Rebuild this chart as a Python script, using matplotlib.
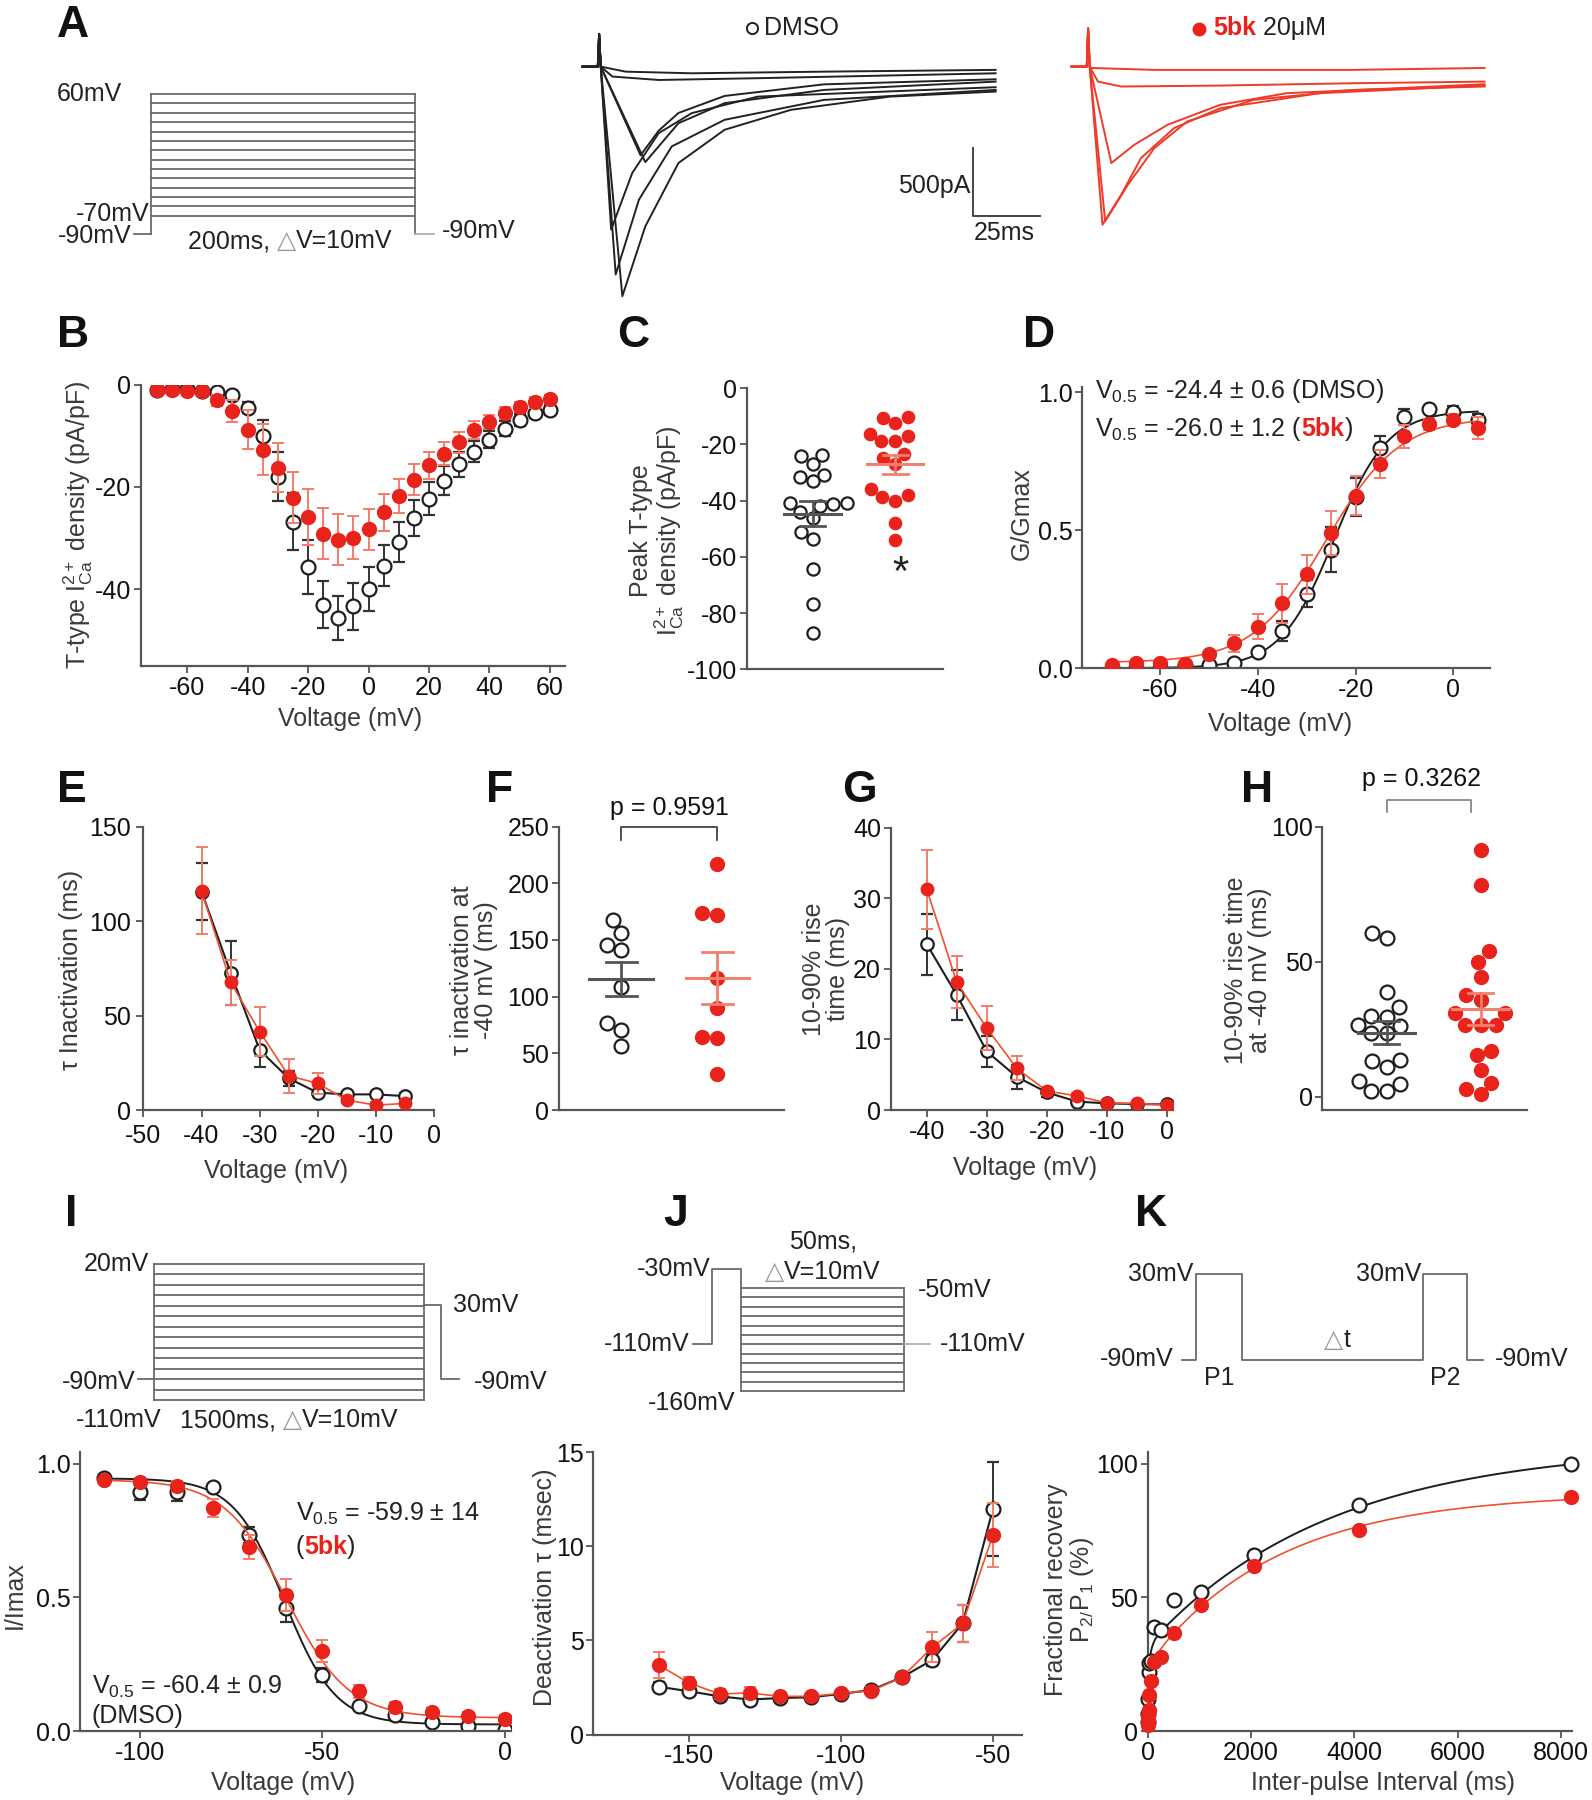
import numpy as np
import matplotlib
matplotlib.use('Agg')
import matplotlib.pyplot as plt
from matplotlib.lines import Line2D
from matplotlib.offsetbox import TextArea, HPacker, AnnotationBbox

plt.rcParams['font.family'] = ['Liberation Sans', 'DejaVu Sans']
plt.rcParams['mathtext.fontset'] = 'custom'
plt.rcParams['mathtext.rm'] = 'Liberation Sans'
plt.rcParams['mathtext.it'] = 'Liberation Sans:italic'
plt.rcParams['mathtext.bf'] = 'Liberation Sans:bold'
plt.rcParams['axes.unicode_minus'] = False
plt.rcParams['font.size'] = 18

RED = '#e8231c'
RED_ERR = '#f47c68'
RED_LINE = '#f0502c'
BLK = '#1e1e1e'
AXC = '#555555'
LABC = '#3a3a3a'
PROT = '#6a6a6a'
LIGHT = '#b0b0b0'

# ---------------- data ----------------
# A: voltage protocol + example traces (ms, pA)
A_STEPS = list(range(-70, 61, 10))
A_HOLD = -90
A_STEP_MS = 200
TRACE_PRE_T = [-6.2, -0.5, 0.0, 0.6]
TRACE_PRE_DMSO = [0, 0, 240, 0]
TRACE_PRE_5BK = [0, 0, 280, 0]
TRACES_DMSO = [
    ([9.9, 34.7, 84.2, 148.5], [-37, -49, -37, -24]),
    ([5.0, 22.3, 59.4, 148.5], [-73, -98, -85, -49]),
    ([15.5, 22.3, 29.7, 47.0, 84.2, 148.5], [-650, -470, -340, -215, -130, -93]),
    ([17.3, 29.7, 47.0, 84.2, 148.5], [-700, -415, -268, -171, -110]),
    ([4.5, 12.4, 22.3, 34.7, 59.4, 148.5], [-1195, -780, -488, -341, -220, -151]),
    ([6.2, 14.9, 27.2, 47.0, 84.2, 148.5], [-1524, -976, -585, -390, -244, -171]),
    ([8.7, 17.3, 29.7, 47.0, 71.8, 108.9, 148.5], [-1683, -1171, -707, -463, -317, -220, -183]),
]
TRACES_5BK = [
    ([1.2, 24.8, 99.0, 148.5], [-10, -24, -24, -10]),
    ([3.7, 12.4, 49.5, 99.0, 148.5], [-110, -146, -139, -122, -110]),
    ([8.7, 17.3, 29.7, 49.5, 74.3, 148.5], [-707, -573, -427, -280, -195, -129]),
    ([5.4, 12.4, 19.8, 32.2, 49.5, 86.6, 148.5], [-1159, -939, -671, -451, -305, -195, -139]),
    ([6.4, 14.9, 24.8, 37.1, 61.9, 99.0, 148.5], [-1134, -866, -598, -402, -244, -171, -146]),
]
SCALE_PA = 500
SCALE_MS = 25

# B: I-V
B_V = list(range(-70, 61, 5))
B_DMSO = [-1.1, -0.8, -0.8, -1.3, -1.5, -2.1, -4.5, -10.0, -18.0, -26.8, -35.7, -43.1, -45.6, -43.4,
          -39.9, -35.4, -30.8, -26.1, -22.3, -18.8, -15.6, -13.1, -10.8, -8.6, -6.9, -5.5, -5.0]
B_DMSO_SEM = [0.3, 0.3, 0.3, 0.3, 0.4, 0.5, 1.0, 3.0, 4.8, 5.5, 5.3, 4.6, 4.3, 4.5,
              4.3, 4.0, 3.9, 3.5, 3.2, 2.8, 2.4, 2.1, 1.7, 1.4, 1.2, 1.0, 1.0]
B_5BK = [-1.1, -1.0, -1.3, -1.3, -3.1, -5.2, -8.8, -12.7, -16.3, -22.1, -25.9, -29.2, -30.3, -30.0,
         -28.3, -25.0, -21.8, -18.6, -15.8, -13.5, -11.3, -8.9, -7.3, -5.5, -4.4, -3.5, -2.9]
B_5BK_SEM = [0.3, 0.4, 0.4, 0.4, 1.0, 2.2, 3.8, 5.0, 4.8, 5.0, 5.5, 5.0, 5.0, 4.2,
             4.0, 3.6, 3.4, 3.0, 2.7, 2.3, 2.0, 1.7, 1.4, 1.2, 1.0, 1.0, 0.8]

# C: peak density per cell
C_DMSO = [-24.3, -23.7, -27.1, -30.8, -31.5, -33.2, -40.9, -41.2, -42.1, -40.9, -44.1,
          -46.2, -51.2, -53.8, -64.2, -76.7, -87.1]
C_5BK = [-12.4, -10.3, -10.5, -17.1, -18.8, -18.8, -16.2, -27.1, -24.9, -23.3,
         -38.2, -40.3, -38.7, -35.8, -47.9, -54.1]

# D: activation
D_V = list(range(-70, 6, 5))
D_DMSO = [0.0, 0.0, 0.0, 0.01, 0.01, 0.02, 0.06, 0.135, 0.27, 0.43, 0.62, 0.80, 0.91, 0.94, 0.93, 0.90]
D_DMSO_SEM = [0.005, 0.005, 0.005, 0.005, 0.005, 0.01, 0.01, 0.035, 0.05, 0.08, 0.07, 0.04, 0.03, 0.01, 0.02, 0.02]
D_5BK = [0.01, 0.02, 0.02, 0.015, 0.05, 0.09, 0.15, 0.235, 0.34, 0.49, 0.625, 0.74, 0.84, 0.885, 0.90, 0.87]
D_5BK_SEM = [0.005, 0.005, 0.005, 0.005, 0.01, 0.03, 0.045, 0.07, 0.07, 0.08, 0.07, 0.05, 0.04, 0.02, 0.02, 0.04]
# Boltzmann fit: (gmax, v_half, slope, base)
D_FIT_DMSO = (0.935, -24.4, 5.5, 0.0)
D_FIT_5BK = (0.89, -26.0, 7.5, 0.02)

# E: tau inactivation
E_V = [-40, -35, -30, -25, -20, -15, -10, -5]
E_DMSO = [115.6, 72.7, 31.8, 16.8, 9.2, 8.3, 8.3, 7.4]
E_DMSO_SEM = [15, 17, 9, 4, 1.5, 1.5, 1.5, 1.5]
E_5BK = [116.0, 67.6, 41.5, 18.2, 14.1, 5.3, 2.6, 3.5]
E_5BK_SEM = [23, 12, 13, 9, 5.5, 1.5, 1.5, 1.5]

# F: tau at -40 mV per cell
F_DMSO = [167.6, 156.3, 145.3, 140.9, 108.5, 76.7, 70.8, 56.9]
F_5BK = [216.7, 174.0, 171.9, 116.7, 90.2, 64.3, 63.7, 31.8]

# G: rise time
G_V = [-40, -35, -30, -25, -20, -15, -10, -5, 0]
G_DMSO = [23.5, 16.3, 8.3, 4.7, 2.5, 1.2, 0.95, 0.85, 0.8]
G_DMSO_SEM = [4.3, 3.6, 2.2, 1.7, 0.6, 0.3, 0.2, 0.2, 0.2]
G_5BK = [31.3, 18.1, 11.6, 5.9, 2.7, 2.0, 1.0, 0.95, 0.7]
G_5BK_SEM = [5.6, 3.7, 3.1, 1.7, 0.5, 0.4, 0.3, 0.3, 0.3]

# H: rise time at -40 mV per cell
H_DMSO = [60.7, 58.9, 38.9, 33.0, 29.4, 29.9, 26.5, 26.3, 23.7, 23.7, 11.1, 13.6, 13.0, 5.6, 4.7, 1.9, 2.1]
H_5BK = [91.4, 78.4, 54.0, 50.0, 44.4, 37.7, 35.8, 31.1, 30.9, 26.5, 26.5, 26.5, 16.9, 15.4, 9.9, 5.2, 2.7, 0.9]

# I: steady-state inactivation
I_STEPS = list(range(-110, 21, 10))
I_HOLD = -90
I_STEP_MS = 1500
I_V = list(range(-110, 1, 10))
I_DMSO = [0.948, 0.894, 0.894, 0.912, 0.733, 0.459, 0.21, 0.095, 0.061, 0.034, 0.018, 0.004]
I_DMSO_SEM = [0.01, 0.03, 0.035, 0.01, 0.03, 0.05, 0.025, 0.01, 0.01, 0.01, 0.01, 0.01]
I_5BK = [0.939, 0.933, 0.915, 0.834, 0.688, 0.508, 0.299, 0.149, 0.089, 0.070, 0.056, 0.044]
I_5BK_SEM = [0.01, 0.015, 0.02, 0.035, 0.045, 0.06, 0.04, 0.025, 0.02, 0.015, 0.015, 0.015]
# inactivation Boltzmann: (top, bottom, v_half, slope)
I_FIT_DMSO = (0.945, 0.025, -60.4, 7.0)
I_FIT_5BK = (0.94, 0.05, -59.9, 8.5)

# J: deactivation
J_STEPS = list(range(-50, -161, -10))
J_HOLD = -110
J_PRE = -30
J_STEP_MS = 50
J_V = list(range(-160, -49, 10))
J_DMSO = [2.54, 2.30, 2.03, 1.86, 1.94, 1.98, 2.16, 2.37, 3.04, 3.96, 5.9, 12.0]
J_DMSO_SEM = [0.25, 0.15, 0.1, 0.1, 0.1, 0.1, 0.1, 0.1, 0.2, 0.3, 1.0, 2.5]
J_5BK = [3.69, 2.74, 2.16, 2.21, 2.03, 2.03, 2.19, 2.33, 3.04, 4.63, 5.9, 10.6]
J_5BK_SEM = [0.7, 0.3, 0.25, 0.3, 0.15, 0.2, 0.15, 0.2, 0.2, 0.8, 1.0, 1.7]

# K: recovery from inactivation
K_HOLD = -90
K_TEST = 30
K_SEGMENTS = [12, 40, 158, 38, 14]   # hold, P1, gap, P2, tail (schematic widths)
K_T = [2, 4, 8, 16, 32, 64, 128, 256, 512, 1024, 2048, 4096, 8192]
K_DMSO = [3.5, 6.5, 12.0, 22.0, 25.3, 26.3, 38.9, 37.7, 49.0, 52.0, 65.9, 84.5, 100.0]
K_5BK = [2.4, 4.0, 5.8, 7.9, 13.5, 18.8, 25.7, 27.8, 36.8, 47.3, 61.8, 75.2, 87.6]
# double exponential: (a0, a_fast, tau_fast, a_slow, tau_slow)
K_FIT_DMSO = (20, 12, 50, 75, 3500)
K_FIT_5BK = (20, 5, 100, 64, 2500)

# ---------------- figure helpers ----------------
W, H = 1387, 1568          # layout grid (reference pixels)
FW, FH = 1592, 1800
fig = plt.figure(figsize=(FW / 100, FH / 100), dpi=100)
fig.patch.set_facecolor('white')


def add_ax(x0, y0, x1, y1):
    return fig.add_axes([x0 / W, 1 - y1 / H, (x1 - x0) / W, (y1 - y0) / H])


def ftext(x, y, s, **kw):
    fig.text(x / W, 1 - y / H, s, **kw)


def rich(parent, xy, parts, coords, align=(0, 0.5), size=18):
    boxes = [TextArea(s, textprops=dict(color=c, fontsize=size, fontweight=w)) for s, c, w in parts]
    pack = HPacker(children=boxes, align='baseline', pad=0, sep=0)
    ab = AnnotationBbox(pack, xy, xycoords=coords, frameon=False, box_alignment=align,
                        pad=0, annotation_clip=False)
    parent.add_artist(ab)


def style(ax, xlim, ylim, xticks=None, yticks=None):
    ax.set_xlim(*xlim)
    ax.set_ylim(*ylim)
    for s in ('top', 'right'):
        ax.spines[s].set_visible(False)
    for s in ('left', 'bottom'):
        ax.spines[s].set_color(AXC)
        ax.spines[s].set_linewidth(1.6)
    ax.tick_params(direction='out', length=5, width=1.3, color=AXC, labelsize=18,
                   labelcolor='#111', pad=2)
    ax.set_xticks([] if xticks is None else xticks)
    if yticks is not None:
        ax.set_yticks(yticks)
    ax.patch.set_visible(False)


def ylab(ax, x, y, s):
    ax.text(x, y, s, transform=ax.transAxes, rotation=90, ha='center', va='center',
            color=LABC, fontsize=18, multialignment='center', linespacing=1.0)


def xlab(ax, x, y, s):
    ax.text(x, y, s, transform=ax.transAxes, ha='center', va='center', color=LABC, fontsize=18)


def series(ax, x, y, err, filled, line=False, ms=10, z=2):
    fmt = 'o-' if line else 'o'
    if filled:
        ax.errorbar(x, y, yerr=err, fmt=fmt, color=RED_LINE, ecolor=RED_ERR, mfc=RED, mec=RED,
                    ms=ms, capsize=4, elinewidth=1.4, capthick=1.4, lw=1.2, zorder=z + 1)
    else:
        ax.errorbar(x, y, yerr=err, fmt=fmt, color=BLK, ecolor='#333333', mfc='white', mec=BLK,
                    mew=1.6, ms=ms, capsize=4, elinewidth=1.4, capthick=1.4, lw=1.5, zorder=z)


def swarm(y_px, d):
    placed = []
    out = np.zeros(len(y_px))
    for i in np.argsort(y_px):
        y = y_px[i]
        cands = [0.0]
        for xj, yj in placed:
            dy = abs(y - yj)
            if dy < d:
                dx = np.sqrt(d * d - dy * dy)
                cands += [xj - dx, xj + dx]
        cands.sort(key=abs)
        for c in cands:
            if all((c - xj) ** 2 + (y - yj) ** 2 >= d * d - 1e-6 for xj, yj in placed):
                break
        placed.append((c, y))
        out[i] = c
    return out


def strip(ax, pos, vals, filled, half_mean=0.33, half_cap=0.15, ms=11):
    vals = np.asarray(vals, float)
    bb = ax.get_position()
    x0, x1 = ax.get_xlim()
    y0, y1 = ax.get_ylim()
    pxx = bb.width * FW / (x1 - x0)
    pxy = bb.height * FH / (y1 - y0)
    offs = swarm(vals * pxy, ms * 100 / 72 + 1.5) / pxx
    if filled:
        ax.plot(pos + offs, vals, 'o', ms=ms, mfc=RED, mec=RED, zorder=3, clip_on=False)
        mc = '#f2806e'
    else:
        ax.plot(pos + offs, vals, 'o', ms=ms, mfc='white', mec=BLK, mew=1.6, zorder=3, clip_on=False)
        mc = '#555555'
    m = vals.mean()
    sem = vals.std(ddof=1) / np.sqrt(len(vals))
    ax.plot([pos - half_mean, pos + half_mean], [m, m], color=mc, lw=2.2, zorder=4)
    ax.plot([pos, pos], [m - sem, m + sem], color=mc, lw=2, zorder=4)
    for e in (m - sem, m + sem):
        ax.plot([pos - half_cap, pos + half_cap], [e, e], color=mc, lw=2, zorder=4)


def proto_ax(rect, xlim, ylim):
    ax = add_ax(*rect)
    ax.set_xlim(*xlim)
    ax.set_ylim(*ylim)
    ax.axis('off')
    return ax


def boltz(v, p):
    g, vh, k, b = p
    return b + g / (1 + np.exp((vh - v) / k))


def inact(v, p):
    top, bot, vh, k = p
    return bot + (top - bot) / (1 + np.exp((v - vh) / k))


def biexp(t, p):
    a0, a1, t1, a2, t2 = p
    return a0 + a1 * (1 - np.exp(-t / t1)) + a2 * (1 - np.exp(-t / t2))


# panel letters
for letter, x, y in [('A', 50, 4), ('B', 50, 274), ('C', 538, 274), ('D', 891, 274),
                     ('E', 50, 671), ('F', 423, 671), ('G', 734, 671), ('H', 1081, 671),
                     ('I', 57, 1040), ('J', 578, 1040), ('K', 989, 1040)]:
    ftext(x, y, letter, fontsize=32, fontweight='bold', ha='left', va='top', color='#111')

# ---------------- A ----------------
pa = proto_ax((40, 60, 470, 230), (-80, 294), (-121.6, 87))
for v in A_STEPS:
    pa.plot([0, A_STEP_MS], [v, v], color=PROT, lw=1.3)
pa.plot([0, 0], [A_HOLD, max(A_STEPS)], color=PROT, lw=1.3)
pa.plot([A_STEP_MS, A_STEP_MS], [A_HOLD, max(A_STEPS)], color=PROT, lw=1.3)
pa.plot([-13, 0], [A_HOLD, A_HOLD], color=PROT, lw=1.3)
pa.plot([A_STEP_MS, A_STEP_MS + 14], [A_HOLD, A_HOLD], color=LIGHT, lw=1.3)
pa.text(-22, max(A_STEPS), '60mV', ha='right', va='center', color='#222')
pa.text(-1.5, min(A_STEPS) + 2, '-70mV', ha='right', va='center', color='#222')
pa.text(-15, A_HOLD - 2, '-90mV', ha='right', va='center', color='#222')
rich(pa, (105, -97), [('200ms, ', '#222', 'normal'), ('\u25b3', '#999999', 'normal'),
                      ('V=10mV', '#222', 'normal')], 'data', align=(0.5, 0.5))
pa.text(A_STEP_MS + 20, -86, '-90mV', ha='left', va='center', color='#222')

tb = None
for traces, pre, rect, col in [(TRACES_DMSO, TRACE_PRE_DMSO, (505, 20, 910, 265), '#222222'),
                               (TRACES_5BK, TRACE_PRE_5BK, (931, 20, 1336, 265), '#f03a28')]:
    ta = add_ax(*rect)
    ta.set_xlim(-7.3, 166.8)
    ta.set_ylim(-1742, 320)
    ta.axis('off')
    for t, i in traces:
        ta.plot(TRACE_PRE_T + t, pre + i, color=col, lw=1.4)
    if tb is None:
        tb = ta
# scale bar
sb_t, sb_i = 140.2, -1094
tb.plot([sb_t, sb_t, sb_t + SCALE_MS], [sb_i + SCALE_PA, sb_i, sb_i], color='#444', lw=1.4, clip_on=False)
tb.text(sb_t - 1, sb_i + 0.44 * SCALE_PA, '%dpA' % SCALE_PA, ha='right', va='center', color='#222')
tb.text(sb_t, sb_i - 0.25 * SCALE_PA, '%dms' % SCALE_MS, ha='left', va='center', color='#222')

# legends above traces
fig.add_artist(Line2D([655 / W], [1 - 24 / H], marker='o', ms=8, mfc='white', mec=BLK, mew=1.4,
                      transform=fig.transFigure))
ftext(666, 24, 'DMSO', ha='left', va='center', color='#222')
fig.add_artist(Line2D([1045 / W], [1 - 25 / H], marker='o', ms=9, mfc=RED, mec=RED,
                      transform=fig.transFigure))
rich(fig, (1057 / W, 1 - 24 / H), [('5bk', RED, 'bold'), (' 20\u03bcM', '#222', 'normal')],
     'figure fraction')

# ---------------- B ----------------
ax = add_ax(123, 335, 492, 580)
style(ax, (-75.2, 64.9), (-55, 0), xticks=[-60, -40, -20, 0, 20, 40, 60], yticks=[0, -20, -40])
series(ax, B_V, B_DMSO, B_DMSO_SEM, False, ms=10)
series(ax, B_V, B_5BK, B_5BK_SEM, True, ms=10)
ylab(ax, -0.149, 0.5, r'T-type $\mathregular{I_{Ca}^{2+}}$ density (pA/pF)')
xlab(ax, 0.493, -0.19, 'Voltage (mV)')

# ---------------- C ----------------
ax = add_ax(651, 338, 822, 583)
style(ax, (-0.79, 1.585), (-100, 0), yticks=[0, -20, -40, -60, -80, -100])
strip(ax, 0, C_DMSO, False, half_mean=0.34, half_cap=0.15, ms=8.8)
strip(ax, 1, C_5BK, True, half_mean=0.34, half_cap=0.15, ms=8.8)
ax.text(1.06, -66, '*', ha='center', va='center', fontsize=30, color='#222')
ylab(ax, -0.456, 0.494, 'Peak T-type\n' + r'$\mathregular{I_{Ca}^{2+}}$ density (pA/pF)')

# ---------------- D ----------------
ax = add_ax(943, 337, 1298, 582)
style(ax, (-76, 7.5), (0, 1.02), xticks=[-60, -40, -20, 0], yticks=[0, 0.5, 1.0])
ax.set_yticklabels(['0.0', '0.5', '1.0'])
vv = np.linspace(min(D_V), max(D_V), 200)
ax.plot(vv, boltz(vv, D_FIT_DMSO), color=BLK, lw=1.4, zorder=2)
ax.plot(vv, boltz(vv, D_FIT_5BK), color=RED_LINE, lw=1.2, zorder=3)
series(ax, D_V, D_DMSO, D_DMSO_SEM, False, ms=10)
series(ax, D_V, D_5BK, D_5BK_SEM, True, ms=10)
rich(ax, (0.03, 0.985), [(r'V$_{0.5}$ = -24.4 $\pm$ 0.6 (DMSO)', '#222', 'normal')], 'axes fraction')
rich(ax, (0.03, 0.85), [(r'V$_{0.5}$ = -26.0 $\pm$ 1.2 (', '#222', 'normal'), ('5bk', RED, 'bold'),
                        (')', '#222', 'normal')], 'axes fraction')
ylab(ax, -0.149, 0.55, 'G/Gmax')
xlab(ax, 0.485, -0.2, 'Voltage (mV)')

# ---------------- E ----------------
ax = add_ax(125, 720, 378, 967)
style(ax, (-50, 0), (0, 150), xticks=[-50, -40, -30, -20, -10, 0], yticks=[0, 50, 100, 150])
ax.tick_params(axis='x', pad=5)
ax.tick_params(axis='y', pad=4)
series(ax, E_V, E_DMSO, E_DMSO_SEM, False, line=True, ms=9)
series(ax, E_V, E_5BK, E_5BK_SEM, True, line=True, ms=9)
ylab(ax, -0.25, 0.494, '\u03c4 Inactivation (ms)')
xlab(ax, 0.455, -0.215, 'Voltage (mV)')

# ---------------- F ----------------
ax = add_ax(487, 720, 683, 967)
style(ax, (-0.645, 1.69), (0, 250), yticks=[0, 50, 100, 150, 200, 250])
strip(ax, 0, F_DMSO, False, half_mean=0.33, half_cap=0.16, ms=10)
strip(ax, 1, F_5BK, True, half_mean=0.33, half_cap=0.16, ms=10)
ax.plot([0, 0, 1, 1], [238, 250, 250, 238], color='#444', lw=1.3, clip_on=False)
ax.text(0.5, 266, 'p = 0.9591', ha='center', va='center', color='#111')
ylab(ax, -0.378, 0.494, '\u03c4 inactivation at\n-40 mV (ms)')

# ---------------- G ----------------
ax = add_ax(776, 721, 1022, 967)
style(ax, (-46, 1), (0, 40), xticks=[-40, -30, -20, -10, 0], yticks=[0, 10, 20, 30, 40])
series(ax, G_V, G_DMSO, G_DMSO_SEM, False, line=True, ms=9)
series(ax, G_V, G_5BK, G_5BK_SEM, True, line=True, ms=9)
ylab(ax, -0.228, 0.5, '10-90% rise\ntime (ms)')
xlab(ax, 0.476, -0.206, 'Voltage (mV)')

# ---------------- H ----------------
ax = add_ax(1152, 720, 1330, 967)
style(ax, (-0.685, 1.489), (-5, 100), yticks=[0, 50, 100])
strip(ax, 0, H_DMSO, False, half_mean=0.3, half_cap=0.13, ms=10)
strip(ax, 1, H_5BK, True, half_mean=0.3, half_cap=0.13, ms=10)
ax.plot([0, 0, 0.9, 0.9], [105.5, 110, 110, 105.5], color='#888', lw=1.3, clip_on=False)
ax.text(0.37, 117.5, 'p = 0.3262', ha='center', va='center', color='#111')
ylab(ax, -0.365, 0.494, '10-90% rise time\nat -40 mV (ms)')

# ---------------- I protocol ----------------
pi = proto_ax((40, 1080, 500, 1250), (-599, 2331), (-142.8, 43))
for v in I_STEPS:
    pi.plot([0, I_STEP_MS], [v, v], color=PROT, lw=1.3)
pi.plot([0, 0], [min(I_STEPS), max(I_STEPS)], color=PROT, lw=1.3)
pi.plot([I_STEP_MS, I_STEP_MS], [min(I_STEPS), max(I_STEPS)], color=PROT, lw=1.3)
pi.plot([-89, 0], [I_HOLD, I_HOLD], color=PROT, lw=1.3)
pi.plot([I_STEP_MS, I_STEP_MS + 96, I_STEP_MS + 96, I_STEP_MS + 192], [-19, -19, I_HOLD, I_HOLD],
        color=PROT, lw=1.3)
pi.text(-25, max(I_STEPS), '20mV', ha='right', va='center', color='#222')
pi.text(-102, I_HOLD - 2, '-90mV', ha='right', va='center', color='#222')
pi.text(-197, -128.6, '-110mV', ha='center', va='center', color='#222')
rich(pi, (752, -128.6), [('1500ms, ', '#222', 'normal'), ('\u25b3', '#999999', 'normal'),
                         ('V=10mV', '#222', 'normal')], 'data', align=(0.5, 0.5))
pi.text(1662, -19, '30mV', ha='left', va='center', color='#222')
pi.text(1777, I_HOLD - 2, '-90mV', ha='left', va='center', color='#222')

# ---------------- J protocol ----------------
pj = proto_ax((500, 1070, 920, 1240), (-51.4, 96.5), (-194.3, 13.6))
for v in J_STEPS:
    pj.plot([0, J_STEP_MS], [v, v], color=PROT, lw=1.3)
pj.plot([-15, -9, -9, 0, 0], [J_HOLD, J_HOLD, J_PRE, J_PRE, min(J_STEPS)], color=PROT, lw=1.3)
pj.plot([J_STEP_MS, J_STEP_MS], [max(J_STEPS), min(J_STEPS)], color=PROT, lw=1.3)
pj.plot([J_STEP_MS, J_STEP_MS + 8], [J_HOLD, J_HOLD], color=LIGHT, lw=1.3)
pj.text(-9.5, J_PRE, '-30mV', ha='right', va='center', color='#222')
pj.text(-16, J_HOLD, '-110mV', ha='right', va='center', color='#222')
pj.text(-2, -172, '-160mV', ha='right', va='center', color='#222')
pj.text(25, 0, '50ms,', ha='center', va='center', color='#222')
rich(pj, (25, -33), [('\u25b3', '#999999', 'normal'), ('V=10mV', '#222', 'normal')], 'data',
     align=(0.5, 0.5))
pj.text(54, -52, '-50mV', ha='left', va='center', color='#222')
pj.text(61, J_HOLD, '-110mV', ha='left', va='center', color='#222')

# ---------------- K protocol ----------------
pk = proto_ax((940, 1080, 1387, 1230), (-90, 357), (-162, 78))
edges = np.cumsum([0] + K_SEGMENTS)
levels = [K_HOLD, K_TEST, K_HOLD, K_TEST, K_HOLD]
kt, kv = [], []
for s, e, lv in zip(edges[:-1], edges[1:], levels):
    kt += [s, e]
    kv += [lv, lv]
pk.plot(kt, kv, color=PROT, lw=1.3)
pk.text(edges[1] - 2, K_TEST, '30mV', ha='right', va='center', color='#222')
pk.text(-8, K_HOLD + 2, '-90mV', ha='right', va='center', color='#222')
pk.text((edges[1] + edges[2]) / 2, -114, 'P1', ha='center', va='center', color='#222')
rich(pk, ((edges[2] + edges[3]) / 2 + 4, -61), [('\u25b3', '#999999', 'normal'), ('t', '#222', 'normal')],
     'data', align=(0.5, 0.5))
pk.text(edges[3] - 2, K_TEST, '30mV', ha='right', va='center', color='#222')
pk.text((edges[3] + edges[4]) / 2, -114, 'P2', ha='center', va='center', color='#222')
pk.text(edges[5] + 10, K_HOLD + 2, '-90mV', ha='left', va='center', color='#222')

# ---------------- I ----------------
ax = add_ax(70, 1265, 445, 1508)
style(ax, (-116.4, 1.7), (0, 1.043), xticks=[-100, -50, 0], yticks=[0, 0.5, 1.0])
ax.set_yticklabels(['0.0', '0.5', '1.0'])
vv = np.linspace(min(I_V), max(I_V), 200)
ax.plot(vv, inact(vv, I_FIT_DMSO), color=BLK, lw=1.4, zorder=2)
ax.plot(vv, inact(vv, I_FIT_5BK), color=RED_LINE, lw=1.2, zorder=3)
series(ax, I_V, I_DMSO, I_DMSO_SEM, False, ms=10)
series(ax, I_V, I_5BK, I_5BK_SEM, True, ms=10)
rich(ax, (0.50, 0.78), [(r'V$_{0.5}$ = -59.9 $\pm$ 14', '#222', 'normal')], 'axes fraction')
rich(ax, (0.50, 0.66), [('(', '#222', 'normal'), ('5bk', RED, 'bold'), (')', '#222', 'normal')],
     'axes fraction')
rich(ax, (0.027, 0.16), [(r'V$_{0.5}$ = -60.4 $\pm$ 0.9', '#222', 'normal')], 'axes fraction')
rich(ax, (0.027, 0.055), [('(DMSO)', '#222', 'normal')], 'axes fraction')
ylab(ax, -0.152, 0.486, 'I/Imax')
xlab(ax, 0.472, -0.185, 'Voltage (mV)')

# ---------------- J ----------------
ax = add_ax(517, 1265, 890, 1511)
style(ax, (-181.5, -40.6), (0, 15), xticks=[-150, -100, -50], yticks=[0, 5, 10, 15])
series(ax, J_V, J_DMSO, J_DMSO_SEM, False, line=True, ms=10)
series(ax, J_V, J_5BK, J_5BK_SEM, True, line=True, ms=10)
ylab(ax, -0.112, 0.52, 'Deactivation \u03c4 (msec)')
xlab(ax, 0.464, -0.171, 'Voltage (mV)')

# ---------------- K ----------------
ax = add_ax(997, 1265, 1370, 1508)
style(ax, (-67, 8220), (0, 104.3), xticks=[0, 2000, 4000, 6000, 8000], yticks=[0, 50, 100])
ax.spines['left'].set_position(('data', 0))
tt = np.linspace(0, max(K_T), 600)
ax.plot(tt, biexp(tt, K_FIT_DMSO), color=BLK, lw=1.4, zorder=2)
ax.plot(tt, biexp(tt, K_FIT_5BK), color=RED_LINE, lw=1.2, zorder=3)
ax.plot(K_T, K_DMSO, 'o', ms=10, mfc='white', mec=BLK, mew=1.6, zorder=3, clip_on=False)
ax.plot(K_T, K_5BK, 'o', ms=10, mfc=RED, mec=RED, zorder=4, clip_on=False)
ylab(ax, -0.174, 0.506, 'Fractional recovery\n' + r'P$_{2/}$P$_{1}$ (%)')
xlab(ax, 0.558, -0.185, 'Inter-pulse Interval (ms)')

fig.savefig('out.png', dpi=100, facecolor='white')
